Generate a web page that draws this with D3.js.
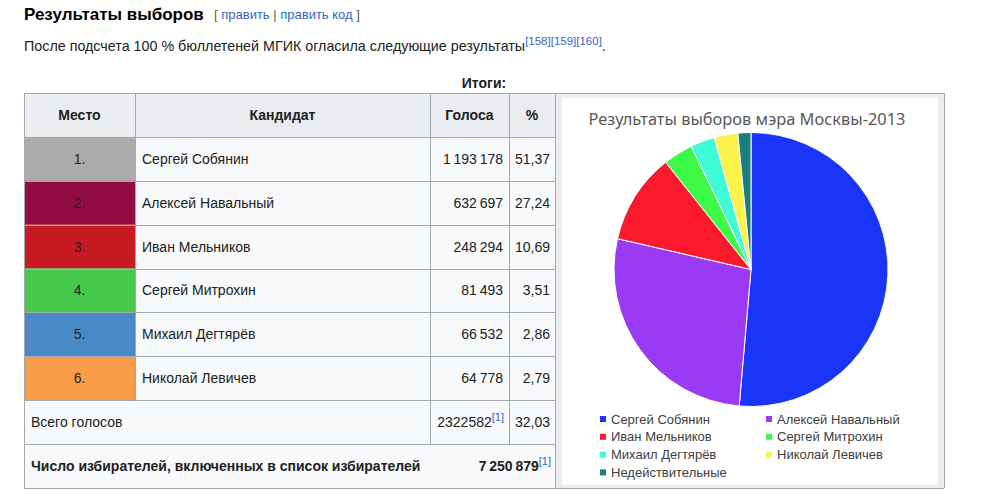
<!DOCTYPE html>
<html>
<head>
<meta charset="utf-8">
<script src="https://cdn.jsdelivr.net/npm/d3@7"></script>
<style>
  body { margin: 0; background: #fff; }
  svg { display: block; font-family: "Liberation Sans", Arial, sans-serif; }
</style>
</head>
<body>
<div id="chart"></div>
<script>
/////////////////////////////////////
/// data
/////////////////////////////////////
var places = ["1.", "2.", "3.", "4.", "5.", "6."];
var candidates = ["Сергей Собянин", "Алексей Навальный", "Иван Мельников",
  "Сергей Митрохин", "Михаил Дегтярёв", "Николай Левичев"];
var votes = [1193178, 632697, 248294, 81493, 66532, 64778];
var percents = ["51,37", "27,24", "10,69", "3,51", "2,86", "2,79"];
var placeColors = ["#ababab", "#920d42", "#c81a23", "#45c94a", "#4a89c8", "#f99c4a"];
var headers = ["Место", "Кандидат", "Голоса", "%"];

var totalVotes = 2322582;
var turnout = "32,03";
var electors = 7250879;

// pie: candidates + invalid ballots
var pieLabels = candidates.concat(["Недействительные"]);
var pieValues = votes.concat([35610]);
var pieColors = ["#1a35f8", "#9b3af5", "#fa192d", "#3cfa46", "#40fbd8", "#fbf24a", "#1d7e7e"];

/////////////////////////////////////
/// drawing
/////////////////////////////////////
var width = 1005, height = 501;
var textColor = "#202122", borderColor = "#a2a9b1";

var svg = d3.select("#chart").append("svg")
  .attr("width", width)
  .attr("height", height);

var fmt = d3.formatLocale({ decimal: ",", thousands: "\u2009", grouping: [3], currency: ["", ""] }).format(",d");

// section heading
svg.append("text")
  .attr("x", 24).attr("y", 20)
  .attr("font-size", 17).attr("font-weight", "bold").attr("fill", "#000")
  .text("Результаты выборов");
var edit = svg.append("text")
  .attr("x", 214).attr("y", 19)
  .attr("font-size", 13).attr("fill", "#54595d");
edit.append("tspan").text("[ ");
edit.append("tspan").attr("fill", "#3366cc").text("править");
edit.append("tspan").text(" | ");
edit.append("tspan").attr("fill", "#3366cc").text("править код");
edit.append("tspan").text(" ]");

// paragraph
var para = svg.append("text")
  .attr("x", 24).attr("y", 51)
  .attr("font-size", 14.3).attr("fill", textColor);
para.append("tspan").text("После подсчета 100 % бюллетеней МГИК огласила следующие результаты");
para.append("tspan").attr("font-size", 11.5).attr("dy", -6).attr("fill", "#3366cc").text("[158][159][160]");
para.append("tspan").attr("dy", 6).text(".");

// table geometry
var colEdges = [24, 135, 430, 509, 555, 944];
var y = d3.scaleLinear().domain([0, 9]).range([93, 488]);

svg.append("text")
  .attr("x", (colEdges[0] + colEdges[5]) / 2).attr("y", 88)
  .attr("text-anchor", "middle").attr("font-size", 14).attr("font-weight", "bold")
  .attr("fill", textColor).text("Итоги:");

var table = svg.append("g");

// header cells
headers.forEach(function(h, i) {
  table.append("rect")
    .attr("x", colEdges[i]).attr("y", y(0))
    .attr("width", colEdges[i + 1] - colEdges[i]).attr("height", y(1) - y(0))
    .attr("fill", "#eaecf0");
  table.append("text")
    .attr("x", (colEdges[i] + colEdges[i + 1]) / 2).attr("y", (y(0) + y(1)) / 2 + 5)
    .attr("text-anchor", "middle").attr("font-size", 14).attr("font-weight", "bold")
    .attr("fill", textColor).text(h);
});

// body background
table.append("rect")
  .attr("x", colEdges[0]).attr("y", y(1))
  .attr("width", colEdges[4] - colEdges[0]).attr("height", y(9) - y(1))
  .attr("fill", "#f8f9fa");

// candidate rows
var rows = table.selectAll("g.row")
  .data(candidates)
  .enter().append("g")
  .attr("class", "row")
  .attr("transform", function(d, i) { return "translate(0," + y(i + 1) + ")"; });

var rh = y(2) - y(1);

rows.append("rect")
  .attr("x", colEdges[0]).attr("width", colEdges[1] - colEdges[0]).attr("height", rh)
  .attr("fill", function(d, i) { return placeColors[i]; });

rows.append("text")
  .attr("x", (colEdges[0] + colEdges[1]) / 2).attr("y", rh / 2 + 5)
  .attr("text-anchor", "middle").attr("font-size", 14).attr("fill", textColor)
  .text(function(d, i) { return places[i]; });

rows.append("text")
  .attr("x", colEdges[1] + 7).attr("y", rh / 2 + 5)
  .attr("font-size", 14).attr("fill", textColor)
  .text(function(d) { return d; });

rows.append("text")
  .attr("x", colEdges[3] - 6).attr("y", rh / 2 + 5)
  .attr("text-anchor", "end").attr("font-size", 14).attr("fill", textColor)
  .text(function(d, i) { return fmt(votes[i]); });

rows.append("text")
  .attr("x", colEdges[4] - 5).attr("y", rh / 2 + 5)
  .attr("text-anchor", "end").attr("font-size", 14).attr("fill", textColor)
  .text(function(d, i) { return percents[i]; });

// total row
var ty = (y(7) + y(8)) / 2 + 5;
table.append("text").attr("x", colEdges[0] + 7).attr("y", ty)
  .attr("font-size", 14).attr("fill", textColor).text("Всего голосов");
var tv = table.append("text").attr("x", colEdges[3] - 5).attr("y", ty)
  .attr("text-anchor", "end").attr("font-size", 14).attr("fill", textColor);
tv.append("tspan").text(totalVotes);
tv.append("tspan").attr("font-size", 11).attr("dy", -6).attr("fill", "#3366cc").text("[1]");
table.append("text").attr("x", colEdges[4] - 5).attr("y", ty)
  .attr("text-anchor", "end").attr("font-size", 14).attr("fill", textColor).text(turnout);

// electors row
var ey = (y(8) + y(9)) / 2 + 5;
table.append("text").attr("x", colEdges[0] + 7).attr("y", ey)
  .attr("font-size", 14).attr("font-weight", "bold").attr("fill", textColor)
  .text("Число избирателей, включенных в список избирателей");
var ev = table.append("text").attr("x", colEdges[4] - 4).attr("y", ey)
  .attr("text-anchor", "end").attr("font-size", 14).attr("font-weight", "bold").attr("fill", textColor);
ev.append("tspan").text(fmt(electors));
ev.append("tspan").attr("font-size", 11).attr("font-weight", "normal").attr("dy", -6).attr("fill", "#3366cc").text("[1]");

// grid lines
var lines = table.append("g").attr("stroke", borderColor).attr("stroke-width", 1).attr("fill", "none");
d3.range(0, 10).forEach(function(r) {
  lines.append("line").attr("x1", colEdges[0]).attr("x2", r == 0 || r == 9 ? colEdges[5] : colEdges[4])
    .attr("y1", Math.round(y(r)) + 0.5).attr("y2", Math.round(y(r)) + 0.5);
});
colEdges.forEach(function(cx, i) {
  var y2 = y(9);
  if (i == 2 || i == 3) y2 = y(8);
  lines.append("line").attr("x1", cx + 0.5).attr("x2", cx + 0.5)
    .attr("y1", y(0)).attr("y2", i == 1 ? y(7) : y2);
});

// image cell
table.append("rect")
  .attr("x", colEdges[4] + 1).attr("y", y(0) + 1)
  .attr("width", colEdges[5] - colEdges[4] - 1).attr("height", y(9) - y(0) - 1)
  .attr("fill", "#eaecf0");
table.append("rect")
  .attr("x", 562).attr("y", 97.5)
  .attr("width", 376).attr("height", 387)
  .attr("fill", "#fff");

// pie chart
svg.append("text")
  .attr("x", 747).attr("y", 125)
  .attr("text-anchor", "middle").attr("font-size", 16.4)
  .attr("font-family", "'Noto Sans', 'Open Sans', sans-serif")
  .attr("fill", "#595959")
  .text("Результаты выборов мэра Москвы-2013");

var pie = d3.pie().sort(null).value(function(d) { return d; });
var arc = d3.arc().innerRadius(0).outerRadius(137);

svg.append("g")
  .attr("transform", "translate(751,269.5)")
  .selectAll("path")
  .data(pie(pieValues))
  .enter().append("path")
  .attr("d", arc)
  .attr("fill", function(d, i) { return pieColors[i]; })
  .attr("stroke", "#fff")
  .attr("stroke-width", 1);

// legend
var legend = svg.append("g").selectAll("g")
  .data(pieLabels)
  .enter().append("g")
  .attr("transform", function(d, i) {
    return "translate(" + (i % 2 == 0 ? 600 : 766) + "," + (419 + Math.floor(i / 2) * 17.8) + ")";
  });
legend.append("rect")
  .attr("x", 0).attr("y", -3).attr("width", 6).attr("height", 6)
  .attr("fill", function(d, i) { return pieColors[i]; });
legend.append("text")
  .attr("x", 11).attr("y", 4.5)
  .attr("font-size", 13).attr("fill", "#404040")
  .text(function(d) { return d; });
</script>
</body>
</html>
